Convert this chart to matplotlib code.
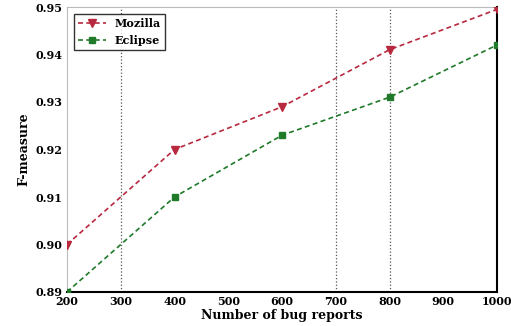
import matplotlib
matplotlib.use('Agg')
import matplotlib.pyplot as plt

bug_reports = [200, 400, 600, 800, 1000]
mozilla = [0.900, 0.920, 0.929, 0.941, 0.9495]
eclipse = [0.890, 0.910, 0.923, 0.931, 0.942]
xticks = [200, 300, 400, 500, 600, 700, 800, 900, 1000]
yticks = [0.89, 0.90, 0.91, 0.92, 0.93, 0.94, 0.95]
guide_x = [300, 700, 800]

plt.rcParams['font.family'] = 'DejaVu Serif'
plt.rcParams['font.weight'] = 'bold'

fig = plt.figure(figsize=(5.11, 3.26), dpi=100)
ax = fig.add_axes([67 / 511, 34 / 326, 430 / 511, 285 / 326])

for gx in guide_x:
    ax.axvline(gx, color='#555555', linestyle=':', linewidth=0.9, zorder=1)

ax.plot(bug_reports, mozilla, color='#b8293f', linestyle='--', dashes=(3, 2),
        linewidth=1.2, marker='v', markersize=6, label='Mozilla', zorder=3)
ax.plot(bug_reports, eclipse, color='#1f7a2a', linestyle='--', dashes=(3, 2),
        linewidth=1.2, marker='s', markersize=5, label='Eclipse', zorder=3)

ax.set_xlim(200, 1000)
ax.set_ylim(0.89, 0.95)
ax.set_xticks(xticks)
ax.set_yticks(yticks)
ax.set_yticklabels([f'{v:.2f}' for v in yticks])
ax.tick_params(labelsize=8, length=0, pad=3)

ax.set_xlabel('Number of bug reports', fontsize=9, fontweight='bold', labelpad=1)
ax.set_ylabel('F-measure', fontsize=9, fontweight='bold', labelpad=4)

for side in ['top', 'left']:
    ax.spines[side].set_color('#bbbbbb')
    ax.spines[side].set_linewidth(0.8)
for side in ['bottom', 'right']:
    ax.spines[side].set_color('black')
    ax.spines[side].set_linewidth(1.5)

leg = ax.legend(loc='upper left', fontsize=8, frameon=True, fancybox=False,
                edgecolor='black', borderaxespad=0.6, handlelength=2.5)
leg.get_frame().set_linewidth(1.0)

fig.savefig('out.png', dpi=100)
